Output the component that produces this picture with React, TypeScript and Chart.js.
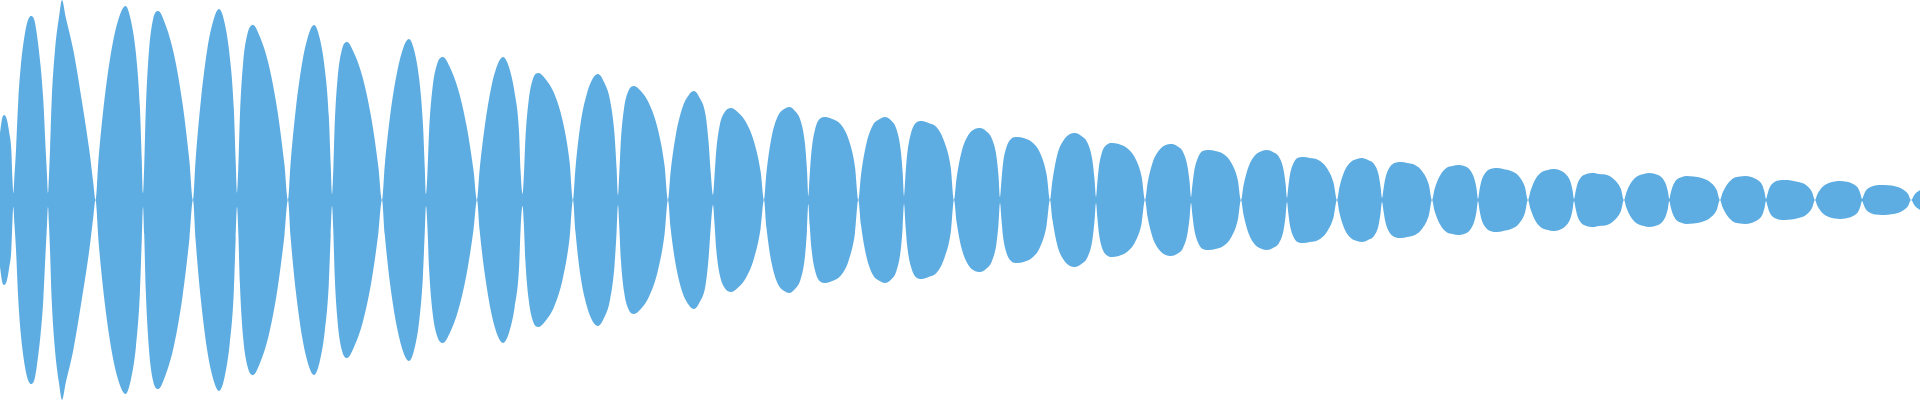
import { useEffect, useRef } from "react";
import { Chart, registerables } from "chart.js";

Chart.register(...registerables);

// sample positions (time axis, 0..1920) of the waveform envelope, one row per lobe
const sampleTimes = [
  0, 2, 4, 6.7, 9.3, 11.3, 12.5, 13.3,
  14.5, 16, 18.3, 20.7, 25, 28, 31, 34.3, 36.7, 40.7, 43.3, 45.7, 47, 48,
  49, 50, 51.7, 55, 59, 62, 65.7, 73.3, 81.7, 89.3, 93.3, 95.5,
  98.5, 104.5, 112, 119.5, 125.5, 130.8, 136, 139.9, 141.8, 143,
  144.2, 145.8, 148.8, 152.9, 158.3, 165.2, 173.9, 182.6, 189.5, 193,
  195.6, 200.8, 207.3, 213.8, 219, 224.4, 229.8, 233.8, 235.7, 237,
  238.3, 239.9, 243.1, 247.4, 253, 260, 268.8, 277.5, 284.5, 288,
  290.6, 295.8, 302.3, 308.8, 314, 319.4, 324.8, 328.8, 330.7, 332,
  333.2, 334.7, 337.7, 341.8, 347, 354, 362.8, 371.5, 378.5, 382,
  384.7, 390.1, 396.9, 403.6, 409, 414.1, 419.2, 422.9, 424.8, 426,
  427.4, 429.1, 432.5, 437.1, 443, 449.8, 458.3, 466.8, 473.6, 477,
  479.6, 484.8, 491.3, 497.8, 503, 508.9, 514.7, 519, 520.6, 522.5,
  523.8, 525.4, 528.6, 532.9, 538.5, 545.4, 554, 562.7, 569.6, 573,
  575.5, 580.5, 586.8, 593, 598, 604, 610, 614.4, 616.6, 618,
  619.3, 620.9, 624.1, 628.4, 634, 640.8, 649.3, 657.8, 664.6, 668,
  670.6, 675.8, 682.3, 688.8, 694, 699.7, 705.4, 708.6, 710.7, 713,
  714.4, 716.2, 719.8, 724.7, 731, 737.6, 745.9, 754.1, 760.7, 764,
  766.5, 771.6, 777.9, 784.2, 789.3, 795, 800.7, 804.9, 807, 808.3,
  809.7, 811.4, 814.9, 819.6, 825.7, 832.2, 840.4, 848.5, 855, 858.3,
  861, 866.3, 873, 879.7, 885, 890.7, 896.4, 900.6, 902.7, 904,
  905.4, 907.2, 910.8, 915.7, 922, 928.4, 936.4, 944.4, 950.8, 954,
  956.6, 961.8, 968.3, 974.8, 980, 986, 992, 996.4, 998.6, 1000,
  1001.4, 1003.1, 1006.5, 1011, 1017, 1023.6, 1031.9, 1040.1, 1046.7, 1050,
  1052.5, 1057.5, 1063.8, 1070, 1075, 1081.3, 1087.6, 1092.2, 1094.5, 1096,
  1097.3, 1098.9, 1102.1, 1106.4, 1112, 1118.6, 1126.9, 1135.1, 1141.7, 1145,
  1147.6, 1152.8, 1159.3, 1165.8, 1171, 1177, 1183, 1187.4, 1189.6, 1191,
  1192.4, 1194.2, 1197.8, 1202.7, 1209, 1215.4, 1223.4, 1231.4, 1237.8, 1241,
  1243.6, 1248.8, 1255.3, 1261.8, 1267, 1273, 1279, 1283.4, 1285.6, 1287,
  1288.3, 1289.9, 1293.1, 1297.4, 1303, 1309.8, 1318.3, 1326.8, 1333.6, 1337,
  1339.5, 1344.5, 1350.8, 1357, 1362, 1368, 1374, 1378.4, 1380.6, 1382,
  1383.5, 1385.4, 1389.2, 1394.4, 1401, 1407.2, 1415, 1422.7, 1428.9, 1432,
  1434.6, 1439.8, 1446.3, 1452.8, 1458, 1464, 1470, 1474.4, 1476.6, 1478,
  1479.5, 1481.4, 1485.2, 1490.4, 1497, 1503.2, 1511, 1518.7, 1524.9, 1528,
  1530.5, 1535.5, 1541.8, 1548, 1553, 1559.3, 1565.6, 1570.2, 1572.5, 1574,
  1575.5, 1577.4, 1581.2, 1586.4, 1593, 1599.2, 1607, 1614.7, 1620.9, 1624,
  1626.5, 1631.5, 1637.8, 1644, 1649, 1655.1, 1661.2, 1665.6, 1667.9, 1669.3,
  1670.7, 1672.8, 1676.3, 1682, 1686.7, 1693.4, 1701.7, 1710, 1716.7, 1720,
  1722.5, 1727.5, 1733.8, 1740, 1745, 1751.3, 1757.6, 1762.2, 1764.5, 1766,
  1767.5, 1769.4, 1773.2, 1778.4, 1785, 1791, 1798.5, 1806, 1812, 1815,
  1817.5, 1822.5, 1828.8, 1835, 1840, 1846.6, 1853.2, 1858, 1860.5, 1862,
  1863.6, 1865.6, 1869.6, 1875, 1882, 1887.8, 1895, 1902.3, 1908.1, 1911,
  1915, 1920,
];

// upper envelope amplitude at each sample (the lower half mirrors it)
const envelope = [
  67, 81, 85, 81, 67, 50, 20, 7,
  25, 50, 100, 133, 167, 180, 184, 180, 167, 133, 100, 50, 25, 7,
  25, 50, 100, 150, 183, 200, 183, 150, 100, 50, 17, 0,
  41, 101, 153, 184, 194, 180, 146, 93, 39, 7,
  34, 91, 147, 180, 189, 176, 146, 96, 38, 0,
  40, 99, 151, 181, 191, 178, 143, 92, 38, 7,
  32, 84, 137, 166, 175, 163, 135, 89, 35, 0,
  37, 91, 138, 166, 175, 163, 131, 84, 35, 6,
  28, 76, 123, 150, 158, 147, 122, 81, 32, 0,
  34, 84, 127, 153, 161, 150, 121, 77, 32, 6,
  26, 69, 112, 136, 143, 133, 110, 73, 29, 0,
  30, 74, 113, 136, 143, 133, 107, 69, 29, 6,
  23, 61, 99, 121, 127, 121, 107, 79, 38, 0,
  32, 76, 106, 122, 126, 118, 100, 67, 32, 5,
  27, 60, 92, 109, 114, 109, 96, 71, 34, 0,
  28, 65, 92, 105, 109, 102, 86, 58, 28, 5,
  22, 49, 75, 88, 92, 88, 78, 58, 28, 0,
  28, 63, 84, 91, 93, 89, 79, 57, 30, 4,
  25, 48, 70, 81, 83, 81, 76, 61, 33, 0,
  25, 56, 75, 81, 83, 80, 71, 51, 27, 4,
  24, 46, 66, 77, 79, 77, 73, 58, 32, 0,
  22, 49, 65, 71, 72, 69, 61, 44, 23, 3,
  19, 37, 53, 61, 63, 62, 58, 47, 25, 0,
  20, 46, 60, 66, 67, 64, 57, 41, 21, 3,
  17, 33, 48, 55, 57, 56, 52, 42, 23, 0,
  17, 38, 50, 55, 56, 54, 48, 34, 18, 3,
  15, 29, 42, 49, 50, 49, 46, 37, 20, 0,
  15, 34, 45, 49, 50, 48, 43, 31, 16, 2,
  13, 25, 36, 42, 43, 42, 40, 32, 17, 0,
  13, 29, 38, 41, 42, 40, 36, 26, 13, 2,
  11, 22, 32, 37, 38, 37, 35, 28, 15, 0,
  11, 24, 32, 34, 35, 34, 30, 21, 11, 1,
  10, 19, 27, 31, 32, 31, 29, 24, 13, 0,
  9, 21, 28, 30, 31, 30, 26, 19, 10, 1,
  8, 16, 23, 26, 27, 26, 25, 20, 11, 0,
  8, 18, 24, 26, 27, 26, 23, 16.5, 8.6, 1,
  7, 14, 20, 23, 24, 23.5, 22, 18, 10, 0,
  7, 16, 22, 23.5, 24, 23, 20, 15, 8, 1,
  6, 12, 17, 19.4, 20, 19.6, 18, 15, 8, 0,
  6, 13, 17, 18.6, 19, 18.2, 16, 12, 6, 1,
  4.5, 9, 12.6, 14.6, 15, 14.7, 13.8, 11, 6, 0,
  6, 10,
];

const waveColor = "#5DADE2";
const timeMin = 0;
const timeMax = 1920;
const ampMax = 200;

export default function App() {
  const canvasRef = useRef<HTMLCanvasElement>(null);

  useEffect(() => {
    document.body.style.margin = "0";
    const canvas = canvasRef.current;
    if (!canvas) return;
    const upper = sampleTimes.map((t, i) => ({ x: t, y: envelope[i] }));
    const lower = sampleTimes.map((t, i) => ({ x: t, y: -envelope[i] }));
    const common = {
      fill: "origin" as const,
      backgroundColor: waveColor,
      borderColor: waveColor,
      borderWidth: 0,
      pointRadius: 0,
      cubicInterpolationMode: "monotone" as const,
    };
    const chart = new Chart(canvas, {
      type: "line",
      data: {
        datasets: [
          { data: upper, ...common },
          { data: lower, ...common },
        ],
      },
      options: {
        animation: false,
        responsive: false,
        maintainAspectRatio: false,
        layout: { padding: 0 },
        plugins: {
          legend: { display: false },
          tooltip: { enabled: false },
        },
        scales: {
          x: { type: "linear", min: timeMin, max: timeMax, display: false },
          y: { type: "linear", min: -ampMax, max: ampMax, display: false },
        },
      },
    });
    return () => chart.destroy();
  }, []);

  return (
    <div style={{ width: 1920, height: 400 }}>
      <canvas
        ref={canvasRef}
        width={1920}
        height={400}
        style={{ display: "block", width: 1920, height: 400 }}
      />
    </div>
  );
}
